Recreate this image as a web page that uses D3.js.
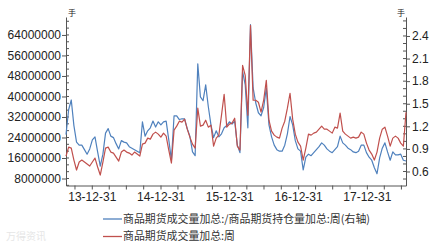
<!DOCTYPE html>
<html><head><meta charset="utf-8">
<script src="https://cdn.jsdelivr.net/npm/d3@7"></script>
<style>
body{margin:0;background:#fff;}
svg{display:block;font-family:"Liberation Sans",Arial,sans-serif;}
</style>
</head><body><svg id="c" width="443" height="245"></svg>
<script>
// ---- data ----
const startDate = "2013-08-16";
const stepDays = 14;
const volume = [16.75e6,20.25e6,19.86e6,15.2e6,11.31e6,14.42e6,15.2e6,14.42e6,13.64e6,12.86e6,
14.42e6,15.97e6,12.47e6,9.36e6,14.42e6,19.86e6,20.25e6,18.31e6,17.92e6,16.36e6,
14.81e6,18.31e6,19.09e6,18.31e6,17.92e6,17.14e6,18.31e6,17.53e6,16.75e6,21.42e6,
21.81e6,23.75e6,23.36e6,25.31e6,26.09e6,25.31e6,24.14e6,25.7e6,24.53e6,19.09e6,
14.03e6,26.86e6,28.42e6,30.36e6,29.98e6,31.14e6,27.25e6,24.14e6,21.42e6,19.86e6,
35.42e6,28.42e6,28.81e6,30.75e6,28.03e6,28.81e6,20.64e6,23.75e6,24.92e6,32.7e6,
40.87e6,28.03e6,29.2e6,29.59e6,31.53e6,20.64e6,19.09e6,52.15e6,48.26e6,32.7e6,
67.7e6,38.53e6,38.53e6,37.75e6,33.86e6,38.53e6,46.31e6,30.75e6,26.48e6,24.92e6,
24.14e6,23.75e6,27.64e6,30.36e6,35.42e6,41.26e6,31.14e6,25.31e6,22.2e6,20.64e6,
15.2e6,19.86e6,25.31e6,24.92e6,25.7e6,26.09e6,27.25e6,28.42e6,27.25e6,27.25e6,
26.48e6,25.7e6,28.03e6,27.64e6,33.48e6,26.48e6,25.31e6,24.53e6,23.75e6,24.14e6,
23.75e6,24.14e6,26.09e6,25.31e6,21.81e6,19.09e6,17.53e6,15.2e6,18.31e6,23.75e6,
27.25e6,28.03e6,24.53e6,20.64e6,23.75e6,24.53e6,23.75e6,21.81e6,20.64e6,33.86e6];
const ratio = [1.09,1.42,1.55,1.21,0.99,0.95,0.95,0.89,0.83,0.90,
1.02,1.06,0.86,0.67,0.83,1.11,1.17,1.07,1.05,0.97,
0.90,1.01,0.99,0.98,0.93,0.91,0.89,0.87,0.85,1.26,
1.07,1.14,1.18,1.27,1.19,1.26,1.22,1.26,1.27,1.02,
0.75,1.34,1.34,1.29,1.30,1.30,1.17,1.07,0.86,0.81,
2.03,1.59,1.54,1.75,1.46,1.22,1.05,1.14,1.06,1.10,
1.18,1.21,1.26,1.23,1.27,0.95,0.85,1.93,1.75,1.18,
2.55,1.71,1.51,1.38,1.34,1.45,1.71,1.22,1.06,0.95,
0.89,0.87,0.87,0.95,1.10,1.33,1.22,1.01,0.90,0.87,
0.62,0.79,0.83,0.81,0.85,0.89,0.93,0.98,0.95,0.90,
0.87,0.85,0.89,0.93,1.07,0.98,0.95,0.91,0.89,0.86,
0.85,0.87,0.95,0.95,0.85,0.79,0.75,0.65,0.57,0.78,
0.91,0.98,0.86,0.75,0.86,0.82,0.82,0.83,0.75,0.74];
const leftTicks = [8000000,16000000,24000000,32000000,40000000,48000000,56000000,64000000];
const rightTicks = [0.6,0.9,1.2,1.5,1.8,2.1,2.4];
const xTickLabels = ["13-12-31","14-12-31","15-12-31","16-12-31","17-12-31"];
const seriesNames = ["商品期货成交量加总:/商品期货持仓量加总:周(右轴)","商品期货成交量加总:周"];
const unitLabel = "手";
const colors = {ratio:"#4f81bd", volume:"#c0504d"};

// ---- build ----
const parse = d3.utcParse("%Y-%m-%d");
const fmt = d3.utcFormat("%y-%m-%d");
const t0 = parse(startDate);
const dates = volume.map((_, i) => d3.utcDay.offset(t0, i * stepDays));

const L = 66, R = 406, T = 17, B = 185.5;
const svg = d3.select("#c");

const x = d3.scaleUtc().domain([dates[0], dates[dates.length-1]]).range([L, R]);
const yL = d3.scaleLinear().domain([5.27e6, 71.0e6]).range([B, T]);
const yR = d3.scaleLinear().domain([0.414, 2.652]).range([B, T]);

const axisColor = "#555";
const txtColor = "#222";

// left axis
const gL = svg.append("g").attr("transform", `translate(${L},0)`);
gL.call(d3.axisLeft(yL).tickValues(leftTicks).tickFormat(d3.format("d")).tickSize(4).tickSizeOuter(0));
const minorL = d3.range(8e6 - 8e6/3, 71e6, 8e6/3);
gL.selectAll("line.mi").data(minorL.filter(v => yL(v) >= T && yL(v) <= B)).join("line")
  .attr("x1", 0).attr("x2", 3).attr("y1", d => yL(d)).attr("y2", d => yL(d)).attr("stroke", axisColor);

// right axis
const gR = svg.append("g").attr("transform", `translate(${R},0)`);
gR.call(d3.axisRight(yR).tickValues(rightTicks).tickFormat(d3.format(".1f")).tickSize(4).tickSizeOuter(0));
const minorR = d3.range(0.5, 2.66, 0.1);
gR.selectAll("line.mi").data(minorR.filter(v => yR(v) >= T && yR(v) <= B)).join("line")
  .attr("x1", 0).attr("x2", -3).attr("y1", d => yR(d)).attr("y2", d => yR(d)).attr("stroke", axisColor);

// x axis with quarterly ticks
const qTicks = d3.utcMonth.every(3).range(dates[0], dates[dates.length-1])
  .map(d => d3.utcDay.offset(d, -1)).filter(d => d >= dates[0]);
const gX = svg.append("g").attr("transform", `translate(0,${B})`);
gX.call(d3.axisBottom(x).tickValues(qTicks)
  .tickFormat(d => xTickLabels.includes(fmt(d)) ? fmt(d) : "").tickSize(4).tickSizeOuter(0));

[gL, gR, gX].forEach(g => {
  g.select(".domain").attr("stroke", axisColor);
  g.selectAll(".tick line").attr("stroke", axisColor);
  g.selectAll("text").attr("fill", txtColor).attr("font-size", 12)
    .attr("font-family", "'Liberation Sans', Arial, sans-serif");
});
gL.selectAll(".tick text").attr("x", -5);
gR.selectAll(".tick text").attr("x", 6);
gX.selectAll(".tick text").attr("y", 7);

// unit labels
svg.append("text").attr("x", L + 2).attr("y", 16).attr("font-size", 8).attr("fill", txtColor)
  .attr("font-family", "'Noto Sans CJK SC'").text(unitLabel);
svg.append("text").attr("x", R - 9).attr("y", 16).attr("font-size", 8).attr("fill", txtColor)
  .attr("font-family", "'Noto Sans CJK SC'").text(unitLabel);

// lines
const lineR = d3.line().x((d, i) => x(dates[i])).y(d => yR(d));
const lineL = d3.line().x((d, i) => x(dates[i])).y(d => yL(d));
svg.append("path").datum(ratio).attr("d", lineR).attr("fill", "none")
  .attr("stroke", colors.ratio).attr("stroke-width", 1.2).attr("stroke-linejoin", "round");
svg.append("path").datum(volume).attr("d", lineL).attr("fill", "none")
  .attr("stroke", colors.volume).attr("stroke-width", 1.2).attr("stroke-linejoin", "round");

// legend
const leg = [{name: seriesNames[0], c: colors.ratio, y: 219, w: 247},
             {name: seriesNames[1], c: colors.volume, y: 236.5, w: 112}];
const lg = svg.append("g");
leg.forEach(d => {
  lg.append("line").attr("x1", 103).attr("x2", 122).attr("y1", d.y).attr("y2", d.y)
    .attr("stroke", d.c).attr("stroke-width", 1.3);
  lg.append("text").attr("x", 123).attr("y", d.y).attr("dy", "0.36em")
    .attr("font-size", 11).attr("fill", "#333")
    .attr("font-family", "'Noto Sans CJK SC', sans-serif")
    .attr("textLength", d.w).attr("lengthAdjust", "spacingAndGlyphs").text(d.name);
});

// faint watermark
svg.append("text").attr("x", 6).attr("y", 240).attr("font-size", 10).attr("fill", "#e6e6e6")
  .attr("font-family", "'Noto Sans CJK SC', sans-serif").text("万得资讯");
</script>
</body></html>
